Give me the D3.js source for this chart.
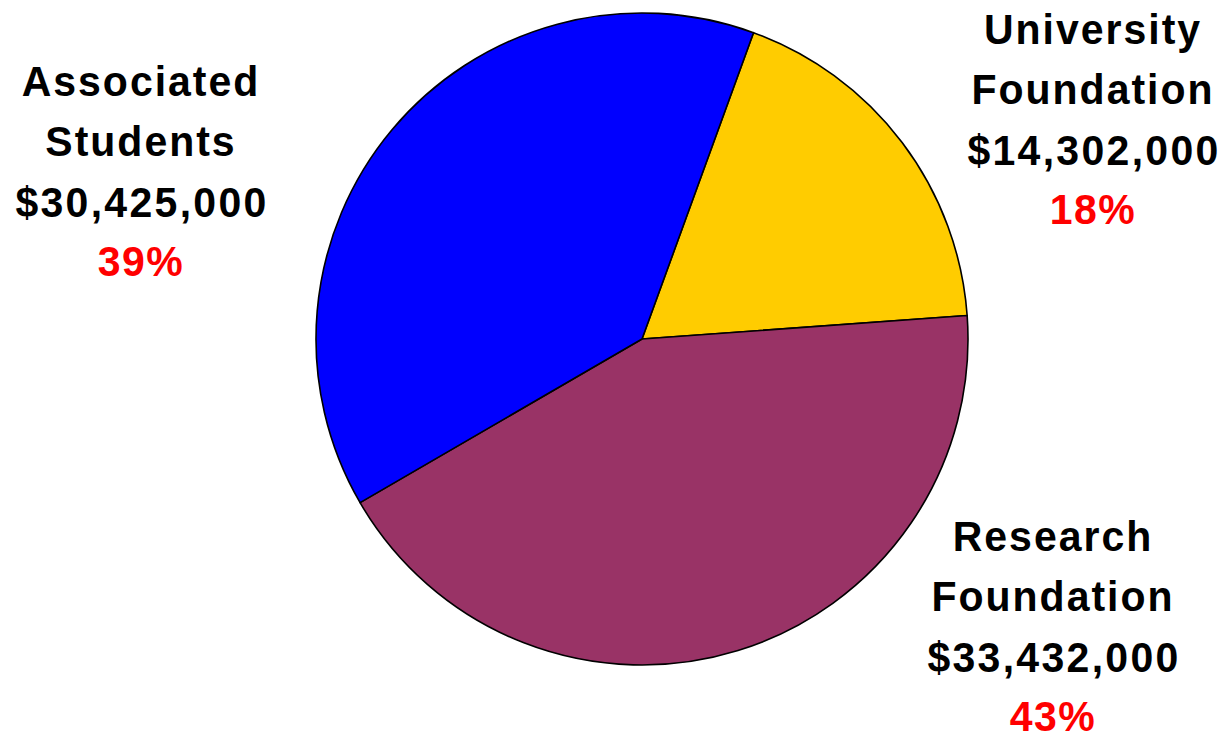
<!DOCTYPE html>
<html><head><meta charset="utf-8">
<script src="https://cdn.jsdelivr.net/npm/d3@7"></script>
<style>body{margin:0;background:#fff}</style>
</head><body>
<svg id="chart" width="1230" height="740"></svg>
<script>
const categories = ["University Foundation", "Research Foundation", "Associated Students"];
const labelLines = [["University", "Foundation"], ["Research", "Foundation"], ["Associated", "Students"]];
const values = [14302000, 33432000, 30425000];
const percents = ["18%", "43%", "39%"];
const colors = ["#FFCC00", "#993366", "#0000FF"];

const svg = d3.select("#chart");
const cx = 642, cy = 339, r = 326;
const startDeg = 20;
const pie = d3.pie().sort(null).value(d => d)
  .startAngle(startDeg * Math.PI / 180)
  .endAngle((startDeg + 360) * Math.PI / 180);
const arc = d3.arc().innerRadius(0).outerRadius(r);
const arcs = pie(values);

svg.append("g").attr("transform", `translate(${cx},${cy})`)
  .selectAll("path").data(arcs).join("path")
  .attr("d", arc)
  .attr("fill", (d, i) => colors[i])
  .attr("stroke", "#000").attr("stroke-width", 1.6).attr("stroke-linejoin", "round");

const fmt = d3.format("$,");
const labelPos = [
  {x: 1093, y: 44},
  {x: 1053, y: 551},
  {x: 141, y: 96}
];
const lh = 60;
const sy = 1.06;
const g = svg.append("g").attr("font-family", "'Liberation Sans', Arial, sans-serif")
  .attr("font-weight", "bold").attr("font-size", 41).attr("text-anchor", "middle");
function addText(x, y, txt, fill, ls) {
  g.append("text").attr("transform", `translate(${x},${y}) scale(1,${sy})`)
    .attr("letter-spacing", ls).attr("fill", fill).text(txt);
}
labelPos.forEach((p, i) => {
  labelLines[i].forEach((t, k) => addText(p.x, p.y + k * lh, t, "#000", 2));
  addText(p.x + 1, p.y + 2 * lh + 1, fmt(values[i]), "#000", 2.3);
  addText(p.x, p.y + 3 * lh, percents[i], "#FF0000", 1.5);
});
</script>
</body></html>
